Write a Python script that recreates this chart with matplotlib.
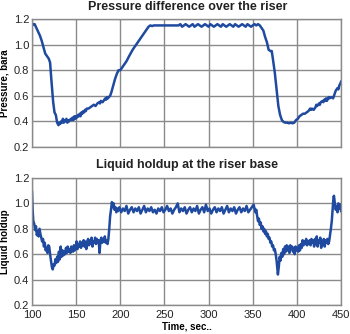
import matplotlib
matplotlib.use("Agg")
import matplotlib.pyplot as plt

# pressure difference over the riser (bara)
press_t = [100, 101.5, 103, 105, 107, 109, 111, 113, 115, 117, 119, 120.5, 122, 124, 125.5, 127, 128.5, 130,
           131, 132, 133, 134, 135, 136, 137, 138, 139, 140, 141, 142, 144, 145, 146, 147, 148, 149, 150, 151,
           152, 153, 154, 155, 156, 157, 158, 159, 160, 161, 162, 164, 166, 168, 170, 172, 174, 176, 177, 178,
           180, 182, 183, 184, 185, 186, 187, 188.5, 190, 192, 194, 196, 198, 200, 202, 204, 207, 210, 214, 218,
           222, 226, 229, 232, 234, 236, 238, 242, 246, 250, 254, 258, 262, 266, 268, 270, 272, 274, 276, 278,
           280, 282, 284, 286, 288, 290, 292, 294, 296, 298, 300, 302, 304, 306, 308, 310, 312, 314, 316, 318,
           320, 322, 324, 326, 328, 330, 332, 334, 336, 338, 340, 342, 344, 346, 348, 350, 352, 354, 356, 358,
           360, 362, 364, 366, 368, 370, 371.5, 373, 375, 377, 379, 381, 383, 385, 387, 389, 391, 393, 395, 397,
           399, 401, 403, 405, 407, 409, 411, 413, 415, 416, 417, 419, 421, 422, 423, 425, 426, 427, 429, 430,
           431, 432, 433, 434, 436, 437, 439, 441, 442, 444, 446, 447, 448, 449.5, 450]
press = [1.15, 1.16, 1.16, 1.13, 1.10, 1.07, 1.03, 0.98, 0.93, 0.91, 0.89, 0.86, 0.72, 0.55, 0.47, 0.45, 0.39, 0.37,
         0.39, 0.38, 0.40, 0.39, 0.42, 0.39, 0.41, 0.40, 0.42, 0.39, 0.41, 0.40, 0.42, 0.41, 0.43, 0.41, 0.44, 0.42, 0.44, 0.43,
         0.45, 0.44, 0.46, 0.44, 0.47, 0.46, 0.48, 0.47, 0.49, 0.48, 0.50, 0.50, 0.51, 0.52, 0.53, 0.52, 0.54, 0.55, 0.54, 0.56,
         0.55, 0.57, 0.58, 0.57, 0.59, 0.58, 0.59, 0.60, 0.63, 0.68, 0.73, 0.77, 0.80, 0.80, 0.82, 0.84, 0.87, 0.91, 0.96, 1.00,
         1.04, 1.08, 1.11, 1.14, 1.15, 1.145, 1.15, 1.15, 1.15, 1.15, 1.15, 1.15, 1.15, 1.15, 1.16, 1.14, 1.15, 1.16, 1.15, 1.14,
         1.15, 1.16, 1.14, 1.15, 1.16, 1.15, 1.14, 1.15, 1.16, 1.15, 1.14, 1.16, 1.15, 1.14, 1.15, 1.16, 1.15, 1.14, 1.16, 1.15,
         1.14, 1.15, 1.16, 1.15, 1.14, 1.16, 1.15, 1.14, 1.15, 1.16, 1.15, 1.14, 1.16, 1.15, 1.14, 1.15, 1.16, 1.15, 1.16, 1.15,
         1.13, 1.11, 1.06, 1.02, 0.96, 0.95, 0.95, 0.88, 0.78, 0.65, 0.52, 0.45, 0.41, 0.395, 0.39, 0.39, 0.385, 0.39, 0.385, 0.39,
         0.41, 0.42, 0.44, 0.45, 0.46, 0.46, 0.47, 0.48, 0.50, 0.49, 0.50, 0.49, 0.51, 0.53, 0.52, 0.54, 0.53, 0.55, 0.56, 0.55,
         0.57, 0.56, 0.58, 0.56, 0.59, 0.58, 0.59, 0.58, 0.60, 0.64, 0.66, 0.65, 0.68, 0.70, 0.71]

# liquid holdup at the riser base
holdup_t = [100, 100.7, 101.5, 102.5, 103.5, 104.5, 105.5, 106.5, 107.5, 108.5, 109.5, 110.5, 111.5, 112.5, 113.5,
            114.5, 115.5, 116.5, 117.5, 118.5, 119.5, 120.5, 121.5, 122.5, 123.5, 124.5, 125.5, 126.5, 127.5, 128.5,
            129.5, 130.5, 131.5, 132.5, 133.5, 134.5, 135.5, 136.5, 137.5, 138.5, 139.5, 140.5, 141.5, 142.5, 143.5,
            144.5, 145.5, 146.5, 147.5, 148.5, 149.5, 150.5, 151.5, 152.5, 153.5, 154.5, 155.5, 156.5, 157.5, 158.5,
            159.5, 160.5, 161.5, 162.5, 163.5, 164.5, 165.5, 166.5, 167.5, 168.5, 169.5, 170.5, 171.5, 172.5, 173.5,
            174.5, 175.5, 176.5, 177.5, 178.5, 179.5, 180.5, 181.5, 182.5, 183.5, 184.5, 185.5, 186.5, 187.5, 188.5,
            189.5, 190.5, 191.5, 192.5, 193.5, 194.5, 195.5, 196.5, 197.5,
            199, 201, 203, 205, 207, 209, 211, 213, 215, 217, 219, 221, 223, 225, 227, 229, 231, 233, 235, 237,
            239, 241, 243, 245, 247, 249, 251, 253, 255, 257, 259, 261, 263, 265, 267, 269, 271, 273, 275, 277,
            279, 281, 283, 285, 287, 289, 291, 293, 295, 297, 299, 301, 303, 305, 307, 309, 311, 313, 315, 317,
            319, 321, 323, 325, 327, 329, 331, 333, 335, 337, 339, 341, 343, 345, 347, 349, 351,
            352, 353, 354, 355, 356, 357, 358, 359, 360, 361, 362, 363, 364, 365, 366, 367, 368, 369, 370, 371,
            372, 373, 374, 375, 376, 377, 378, 378.5, 379.5, 380.5, 381.5, 382.5, 383.5, 384.5, 385.5, 386.5, 387.5,
            388.5, 389.5, 390.5, 391.5, 392.5, 393.5, 394.5, 395.5, 396.5, 397.5, 398.5, 399.5, 400.5, 401.5, 402.5,
            403.5, 404.5, 405.5, 406.5, 407.5, 408.5, 409.5, 410.5, 411.5, 412.5, 413.5, 414.5, 415.5, 416.5, 417.5,
            418.5, 419.5, 420.5, 421.5, 422.5, 423.5, 424.5, 425.5, 426.5, 427.5, 428.5, 429.5, 430.5, 431.5, 432.5,
            433.5, 434.5, 435.5, 436.5, 437.5, 438.5, 439.5, 440.5, 441.5, 442, 443, 444, 445, 446, 447, 448, 449, 450]
holdup = [1.09, 0.95, 0.86, 0.84, 0.79, 0.82, 0.75, 0.78, 0.74, 0.80, 0.76, 0.73, 0.70, 0.72, 0.66,
          0.69, 0.63, 0.65, 0.61, 0.67, 0.66, 0.60, 0.55, 0.50, 0.48, 0.52, 0.51, 0.56, 0.53, 0.58,
          0.54, 0.62, 0.56, 0.66, 0.58, 0.63, 0.59, 0.62, 0.60, 0.65, 0.61, 0.66, 0.62, 0.64, 0.61,
          0.66, 0.63, 0.62, 0.67, 0.63, 0.65, 0.70, 0.64, 0.68, 0.66, 0.70, 0.65, 0.69, 0.67, 0.71,
          0.66, 0.70, 0.64, 0.69, 0.72, 0.67, 0.71, 0.68, 0.73, 0.66, 0.70, 0.69, 0.73, 0.68, 0.72,
          0.69, 0.71, 0.61, 0.70, 0.73, 0.69, 0.72, 0.70, 0.74, 0.69, 0.71, 0.68, 0.72, 0.80, 0.90,
          0.95, 1.01, 0.97, 1.00, 0.95, 0.97, 0.93, 0.96, 0.94,
          0.97, 0.93, 0.96, 0.94, 0.98, 0.92, 0.95, 0.97, 0.93, 0.96, 0.94, 0.97, 0.92, 0.95, 0.98, 0.93, 0.96, 0.94, 0.97, 0.93,
          0.95, 0.92, 0.96, 0.94, 0.97, 0.93, 0.95, 0.98, 0.94, 0.96, 0.92, 0.95, 0.97, 1.00, 0.93, 0.96, 0.94, 0.97, 0.92, 0.95,
          0.97, 0.93, 0.96, 0.94, 0.98, 0.92, 0.95, 0.97, 0.93, 0.99, 0.94, 0.96, 0.92, 0.95, 0.97, 0.93, 0.96, 0.94, 0.97, 0.92,
          0.95, 0.98, 0.93, 0.96, 0.94, 0.97, 0.92, 0.95, 0.97, 0.93, 0.96, 0.94, 0.98, 0.93, 0.95, 0.97, 0.99,
          0.96, 0.93, 0.95, 0.90, 0.86, 0.88, 0.83, 0.85, 0.80, 0.82, 0.78, 0.80, 0.76, 0.78, 0.74, 0.76, 0.72, 0.73, 0.69, 0.70,
          0.66, 0.67, 0.63, 0.64, 0.60, 0.55, 0.47, 0.44, 0.50, 0.58, 0.55, 0.61, 0.58, 0.64, 0.60, 0.66, 0.62,
          0.67, 0.63, 0.66, 0.61, 0.67, 0.64, 0.66, 0.62, 0.65, 0.60, 0.66, 0.63, 0.65, 0.62, 0.67,
          0.63, 0.68, 0.65, 0.71, 0.67, 0.70, 0.68, 0.72, 0.67, 0.70, 0.68, 0.71, 0.67, 0.72, 0.69,
          0.71, 0.66, 0.72, 0.68, 0.74, 0.66, 0.71, 0.69, 0.73, 0.65, 0.70, 0.68, 0.72, 0.66, 0.71,
          0.69, 0.72, 0.68, 0.70, 0.75, 0.80, 0.86, 0.95, 1.05, 1.06, 1.00, 0.95, 0.98, 0.93, 1.00, 0.96, 0.99, 0.94]

xticks = [100, 150, 200, 250, 300, 350, 400, 450]
yticks = [0.2, 0.4, 0.6, 0.8, 1.0, 1.2]

plt.rcParams['font.family'] = ['Liberation Sans', 'DejaVu Sans']
line_color = '#1f4aa0'
grid_color = '#8a8a8a'

fig = plt.figure(figsize=(3.5, 3.34), dpi=100)
ax1 = fig.add_axes([0.0914, 0.56, 0.883, 0.383])
ax2 = fig.add_axes([0.0914, 0.087, 0.883, 0.380])

for ax in (ax1, ax2):
    ax.set_xlim(100, 450)
    ax.set_ylim(0.2, 1.2)
    ax.set_xticks(xticks)
    ax.set_yticks(yticks)
    ax.set_yticklabels(['%.1f' % v for v in yticks])
    ax.grid(True, color=grid_color, linewidth=1)
    ax.tick_params(length=0, labelsize=8, colors='#222222', pad=2)
    for s in ax.spines.values():
        s.set_color(grid_color)
        s.set_linewidth(1)

ax1.plot(press_t, press, color=line_color, linewidth=1.8)
ax1.set_xticklabels([])
ax1.set_ylabel('Pressure, bara', fontsize=7, fontweight='bold', labelpad=3)

ax2.plot(holdup_t, holdup, color=line_color, linewidth=1.8)
ax2.tick_params(axis='x', pad=4)
ax2.set_ylabel('Liquid holdup', fontsize=7, fontweight='bold', labelpad=3)
ax2.set_xlabel('Time, sec..', fontsize=7, fontweight='bold', labelpad=1)

fig.text(0.535, 0.978, 'Pressure difference over the riser', ha='center', va='center',
         fontsize=9, fontweight='bold', color='#222222')
fig.text(0.535, 0.505, 'Liquid holdup at the riser base', ha='center', va='center',
         fontsize=9, fontweight='bold', color='#222222')

fig.savefig('out.png', dpi=100)
